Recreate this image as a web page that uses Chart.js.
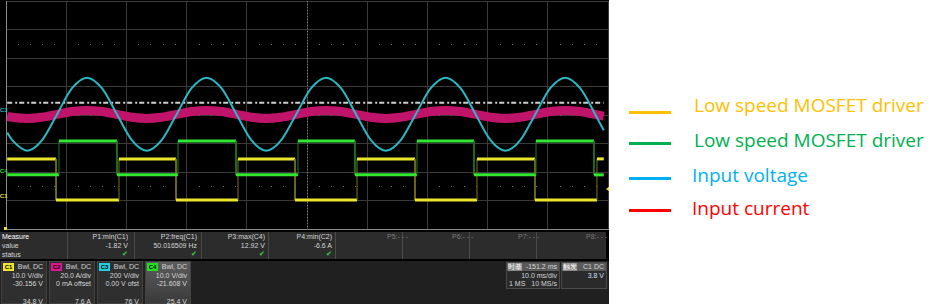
<!DOCTYPE html>
<html>
<head>
<meta charset="utf-8">
<script src="https://cdn.jsdelivr.net/npm/chart.js@4.4.0/dist/chart.umd.min.js"></script>
<style>
  body { margin: 0; width: 936px; height: 304px; overflow: hidden; background: #fff; position: relative; font-family: 'Liberation Sans', Arial, sans-serif; }
  #scope { position: absolute; left: 0; top: 0; width: 609px; height: 304px; background: #000; overflow: hidden; }
  #plot { position: absolute; left: 0; top: 0; width: 609px; height: 230px; }
  .t { position: absolute; font-size: 7px; line-height: 8px; color: #d6d6d6; white-space: nowrap; }
  .r { text-align: right; }
  #meas { position: absolute; left: 0; top: 232px; width: 606px; height: 27px; background: #2c2c2c; }
  .sep { position: absolute; top: 0; width: 1px; height: 27px; background: #4a4a4a; }
  #chrow { position: absolute; left: 0; top: 261px; width: 609px; height: 43px; background: #202020; }
  .ch { position: absolute; top: 0; width: 46px; height: 43px; background: #2f2f2f; border: 1px solid #434343; box-sizing: border-box; }
  .tag { position: absolute; left: 1px; top: 1px; width: 11px; height: 8px; font-size: 6px; line-height: 8px; color: #000; text-align: center; font-weight: bold; }
  .box { position: absolute; top: 1px; height: 27px; background: #2a2a2a; border: 1px solid #4a4a4a; box-sizing: border-box; }
  .hdr { position: absolute; left: 0; top: 0; right: 0; height: 8px; background: #5a5a5a; }
  .legline { position: absolute; left: 629px; width: 42px; height: 3px; }
  .legtxt { position: absolute; font-family: 'Open Sans', 'Noto Sans', sans-serif; font-size: 19px; line-height: 19px; white-space: nowrap; }
</style>
</head>
<body>
<div id="scope">
  <div id="plot"><canvas id="scopeChart"></canvas></div>

  <div id="meas">
    <div class="sep" style="left:67px"></div><div class="sep" style="left:134px"></div>
    <div class="sep" style="left:201px"></div><div class="sep" style="left:268px"></div>
    <div class="sep" style="left:335px"></div><div class="sep" style="left:402px"></div>
    <div class="sep" style="left:469px"></div><div class="sep" style="left:536px"></div>
    <div class="t" style="left:2px;top:1px;color:#fff">Measure</div>
    <div class="t" style="left:2px;top:10px">value</div>
    <div class="t" style="left:2px;top:19px">status</div>

    <div class="t r" style="left:67px;width:61px;top:1px">P1:min(C1)</div>
    <div class="t r" style="left:67px;width:61px;top:10px">-1.82 V</div>
    <div class="t r" style="left:67px;width:61px;top:18px;color:#3ed63e">&#10004;</div>

    <div class="t r" style="left:134px;width:63px;top:1px">P2:freq(C1)</div>
    <div class="t r" style="left:134px;width:63px;top:10px">50.016509 Hz</div>
    <div class="t r" style="left:134px;width:63px;top:18px;color:#3ed63e">&#10004;</div>

    <div class="t r" style="left:201px;width:64px;top:1px">P3:max(C4)</div>
    <div class="t r" style="left:201px;width:64px;top:10px">12.92 V</div>
    <div class="t r" style="left:201px;width:64px;top:18px;color:#3ed63e">&#10004;</div>

    <div class="t r" style="left:268px;width:64px;top:1px">P4:min(C2)</div>
    <div class="t r" style="left:268px;width:64px;top:10px">-6.6 A</div>
    <div class="t r" style="left:268px;width:64px;top:18px;color:#3ed63e">&#10004;</div>

    <div class="t" style="left:387px;top:1px;color:#7a7a7a">P5:- - -</div>
    <div class="t" style="left:452px;top:1px;color:#7a7a7a">P6:- - -</div>
    <div class="t" style="left:518px;top:1px;color:#7a7a7a">P7:- - -</div>
    <div class="t" style="left:586px;top:1px;color:#7a7a7a">P8:- - -</div>
  </div>

  <div id="chrow">
    <div class="ch" style="left:1px">
      <div class="tag" style="background:#f2e62a">C1</div>
      <div class="t r" style="right:3px;top:1px">Bwl, DC</div>
      <div class="t r" style="right:3px;top:10px">10.0 V/div</div>
      <div class="t r" style="right:3px;top:18px">-30.156 V</div>
      <div class="t r" style="right:3px;top:36px">34.8 V</div>
    </div>
    <div class="ch" style="left:49px">
      <div class="tag" style="background:#e0168e">C2</div>
      <div class="t r" style="right:3px;top:1px">Bwl, DC</div>
      <div class="t r" style="right:3px;top:10px">20.0 A/div</div>
      <div class="t r" style="right:3px;top:18px">0 mA offset</div>
      <div class="t r" style="right:3px;top:36px">7.6 A</div>
    </div>
    <div class="ch" style="left:97px">
      <div class="tag" style="background:#22cde0">C3</div>
      <div class="t r" style="right:3px;top:1px">Bwl, DC</div>
      <div class="t r" style="right:3px;top:10px">200 V/div</div>
      <div class="t r" style="right:3px;top:18px">0.00 V ofst</div>
      <div class="t r" style="right:3px;top:36px">76 V</div>
    </div>
    <div class="ch" style="left:145px;background:linear-gradient(#5c5c5c,#3a3a3a)">
      <div class="tag" style="background:#22e022">C4</div>
      <div class="t r" style="right:3px;top:1px">Bwl, DC</div>
      <div class="t r" style="right:3px;top:10px">10.0 V/div</div>
      <div class="t r" style="right:3px;top:18px">-21.608 V</div>
      <div class="t r" style="right:3px;top:36px">25.4 V</div>
    </div>

    <div class="box" style="left:506px;width:54px">
      <div class="hdr"></div>
      <div class="t" style="left:1px;top:0;color:#fff;background:#8a8a8a">时基</div>
      <div class="t r" style="right:2px;top:0">-151.2 ms</div>
      <div class="t r" style="right:2px;top:9px">10.0 ms/div</div>
      <div class="t" style="left:2px;top:17px">1 MS</div>
      <div class="t r" style="right:2px;top:17px">10 MS/s</div>
    </div>
    <div class="box" style="left:561px;width:46px">
      <div class="hdr"></div>
      <div class="t" style="left:1px;top:0;color:#fff;background:#8a8a8a">触发</div>
      <div class="t r" style="right:2px;top:0">C1 DC</div>
      <div class="t r" style="right:2px;top:9px;color:#cfe0ff">3.8 V</div>
    </div>
  </div>
</div>

<div class="legline" style="top:111px;background:#ffc000"></div>
<div class="legtxt" style="left:694px;top:96px;color:#ffc000">Low speed MOSFET driver</div>
<div class="legline" style="top:142px;background:#00b050"></div>
<div class="legtxt" style="left:694px;top:131px;color:#00b050">Low speed MOSFET driver</div>
<div class="legline" style="top:177px;background:#00b0f0"></div>
<div class="legtxt" style="left:692px;top:166px;color:#00b0f0">Input voltage</div>
<div class="legline" style="top:209px;background:#ff0000"></div>
<div class="legtxt" style="left:692px;top:199px;color:#ff0000">Input current</div>

<script>
// time axis in ms (10 ms/div), vertical axis in divisions
const timeMin = 0, timeMax = 100;
const divMin = -4, divMax = 4;
const traceStart = 0.2, traceEnd = 99.3;

// sample times for the two sine-like traces
const sineT = [0.2, 1.04, 3.52, 6.00, 8.49, 10.97, 13.45, 15.93, 18.42, 20.90, 23.38, 25.86, 28.35, 30.83,
  33.31, 35.79, 38.28, 40.76, 43.24, 45.72, 48.21, 50.69, 53.17, 55.65, 58.14, 60.62, 63.10, 65.58, 68.07,
  70.55, 73.03, 75.51, 78.00, 80.48, 82.96, 85.44, 87.93, 90.41, 92.89, 95.37, 97.86, 99.3];
const inputVoltage = [-0.62, -0.88, -1.25, -0.88, 0.03, 0.94, 1.31, 0.94, 0.03, -0.88, -1.25, -0.88, 0.03, 0.94,
  1.31, 0.94, 0.03, -0.88, -1.25, -0.88, 0.03, 0.94, 1.31, 0.94, 0.03, -0.88, -1.25, -0.88, 0.03,
  0.94, 1.31, 0.94, 0.03, -0.88, -1.25, -0.88, 0.03, 0.94, 1.31, 0.94, 0.03, -0.54];
const inputCurrent = [-0.05, -0.08, -0.12, -0.08, 0.02, 0.12, 0.16, 0.12, 0.02, -0.08, -0.12, -0.08, 0.02, 0.12,
  0.16, 0.12, 0.02, -0.08, -0.12, -0.08, 0.02, 0.12, 0.16, 0.12, 0.02, -0.08, -0.12, -0.08, 0.02,
  0.12, 0.16, 0.12, 0.02, -0.08, -0.12, -0.08, 0.02, 0.12, 0.16, 0.12, 0.02, -0.04];

// gate drive square waves: switching instants (ms) and low/high levels (div)
const greenEdges = [8.80, 18.44, 28.57, 38.21, 48.50, 57.97, 68.27, 77.74, 88.04, 97.67];
const greenLevels = [-2.10, -0.91];
const yellowEdges = [8.31, 18.77, 28.24, 38.54, 48.01, 58.31, 67.94, 78.24, 87.87, 98.17];
const yellowLevels = [-2.98, -1.54];

const triggerLevel = 0.43;
const markerLabels = ['C3', 'C4', 'C1'];
const markerLevels = [0.18, -1.96, -2.84];
const markerColors = ['#22c4d0', '#30e830', '#e8e22a'];

function stepPoints(edges, levels, startHigh) {
    const pts = [];
    let high = startHigh;
    pts.push({ x: traceStart, y: levels[high ? 1 : 0] });
    edges.forEach(t => {
        pts.push({ x: t, y: levels[high ? 1 : 0] });
        high = !high;
        pts.push({ x: t, y: levels[high ? 1 : 0] });
    });
    pts.push({ x: traceEnd, y: levels[high ? 1 : 0] });
    return pts;
}

function isEdge(ctx) {
    return ctx.p0.parsed.x === ctx.p1.parsed.x;
}

// minor dots, dotted centre line and channel markers
const scopeDecor = {
    id: 'scopeDecor',
    beforeDatasetsDraw(chart) {
        const { ctx, scales: { x, y }, chartArea } = chart;
        ctx.save();
        ctx.fillStyle = '#6a6a6a';
        [2.5, 0, -2.5].forEach(v => {
            const py = Math.round(y.getPixelForValue(v));
            for (let t = timeMin + 2; t < timeMax; t += 2) {
                if (t % 10 === 0) continue;
                ctx.fillRect(Math.round(x.getPixelForValue(t)), py, 1, 1);
            }
        });
        const cx = Math.round(x.getPixelForValue(50)) + 0.5;
        ctx.strokeStyle = '#777';
        ctx.setLineDash([1, 2]);
        ctx.beginPath();
        ctx.moveTo(cx, chartArea.top);
        ctx.lineTo(cx, chartArea.bottom);
        ctx.stroke();
        ctx.restore();
    },
    afterDraw(chart) {
        const { ctx, scales: { x, y } } = chart;
        ctx.save();
        ctx.font = 'bold 6px "Liberation Sans"';
        ctx.textBaseline = 'middle';
        markerLabels.forEach((lab, i) => {
            const py = y.getPixelForValue(markerLevels[i]);
            ctx.fillStyle = markerColors[i];
            ctx.fillText(lab, 0, py);
        });
        ctx.fillStyle = '#e8e22a';
        ctx.fillRect(4, chart.chartArea.bottom - 2, 3, 3);
        const ty = y.getPixelForValue(-2.6);
        ctx.beginPath();
        ctx.moveTo(x.getPixelForValue(timeMax) - 2, ty);
        ctx.lineTo(x.getPixelForValue(timeMax) + 2, ty - 3);
        ctx.lineTo(x.getPixelForValue(timeMax) + 2, ty + 3);
        ctx.fill();
        ctx.restore();
    }
};

const ctx = document.getElementById('scopeChart').getContext('2d');
window.scopeChart = new Chart(ctx, {
    type: 'line',
    data: {
        datasets: [
            {
                label: 'Input voltage',
                data: sineT.map((t, i) => ({ x: t, y: inputVoltage[i] })),
                borderColor: '#2ab8c4',
                borderWidth: 2,
                cubicInterpolationMode: 'monotone',
                order: 0
            },
            {
                label: 'Low speed MOSFET driver (green)',
                data: stepPoints(greenEdges, greenLevels, false),
                borderColor: '#30e830',
                borderWidth: 3,
                segment: {
                    borderColor: c => isEdge(c) ? '#1f7a1f' : undefined,
                    borderWidth: c => isEdge(c) ? 1 : undefined
                },
                order: 1
            },
            {
                label: 'Low speed MOSFET driver (yellow)',
                data: stepPoints(yellowEdges, yellowLevels, true),
                borderColor: '#ebe52c',
                borderWidth: 3,
                segment: {
                    borderColor: c => isEdge(c) ? '#7a741c' : undefined,
                    borderWidth: c => isEdge(c) ? 1 : undefined
                },
                order: 2
            },
            {
                label: 'Input current',
                data: sineT.map((t, i) => ({ x: t, y: inputCurrent[i] })),
                borderColor: '#c0146a',
                borderWidth: 9,
                cubicInterpolationMode: 'monotone',
                order: 3
            },
            {
                label: 'Trigger',
                data: [{ x: traceStart, y: triggerLevel }, { x: traceEnd, y: triggerLevel }],
                borderColor: '#cfcfcf',
                borderWidth: 2,
                borderDash: [5, 3, 2, 2],
                order: 4
            }
        ]
    },
    options: {
        animation: false,
        responsive: true,
        maintainAspectRatio: false,
        events: [],
        layout: { padding: { left: 6, right: 1, top: 1, bottom: 1 } },
        elements: { point: { radius: 0 }, line: { tension: 0 } },
        plugins: { legend: { display: false }, tooltip: { enabled: false } },
        scales: {
            x: {
                type: 'linear', min: timeMin, max: timeMax,
                ticks: { display: false, stepSize: 10 },
                grid: { color: '#3a3a3a', drawTicks: false },
                border: { color: '#8a8a8a' }
            },
            y: {
                type: 'linear', min: divMin, max: divMax,
                ticks: { display: false, stepSize: 1 },
                grid: { color: '#3a3a3a', drawTicks: false },
                border: { color: '#8a8a8a' }
            }
        }
    },
    plugins: [scopeDecor]
});
</script>
</body>
</html>
